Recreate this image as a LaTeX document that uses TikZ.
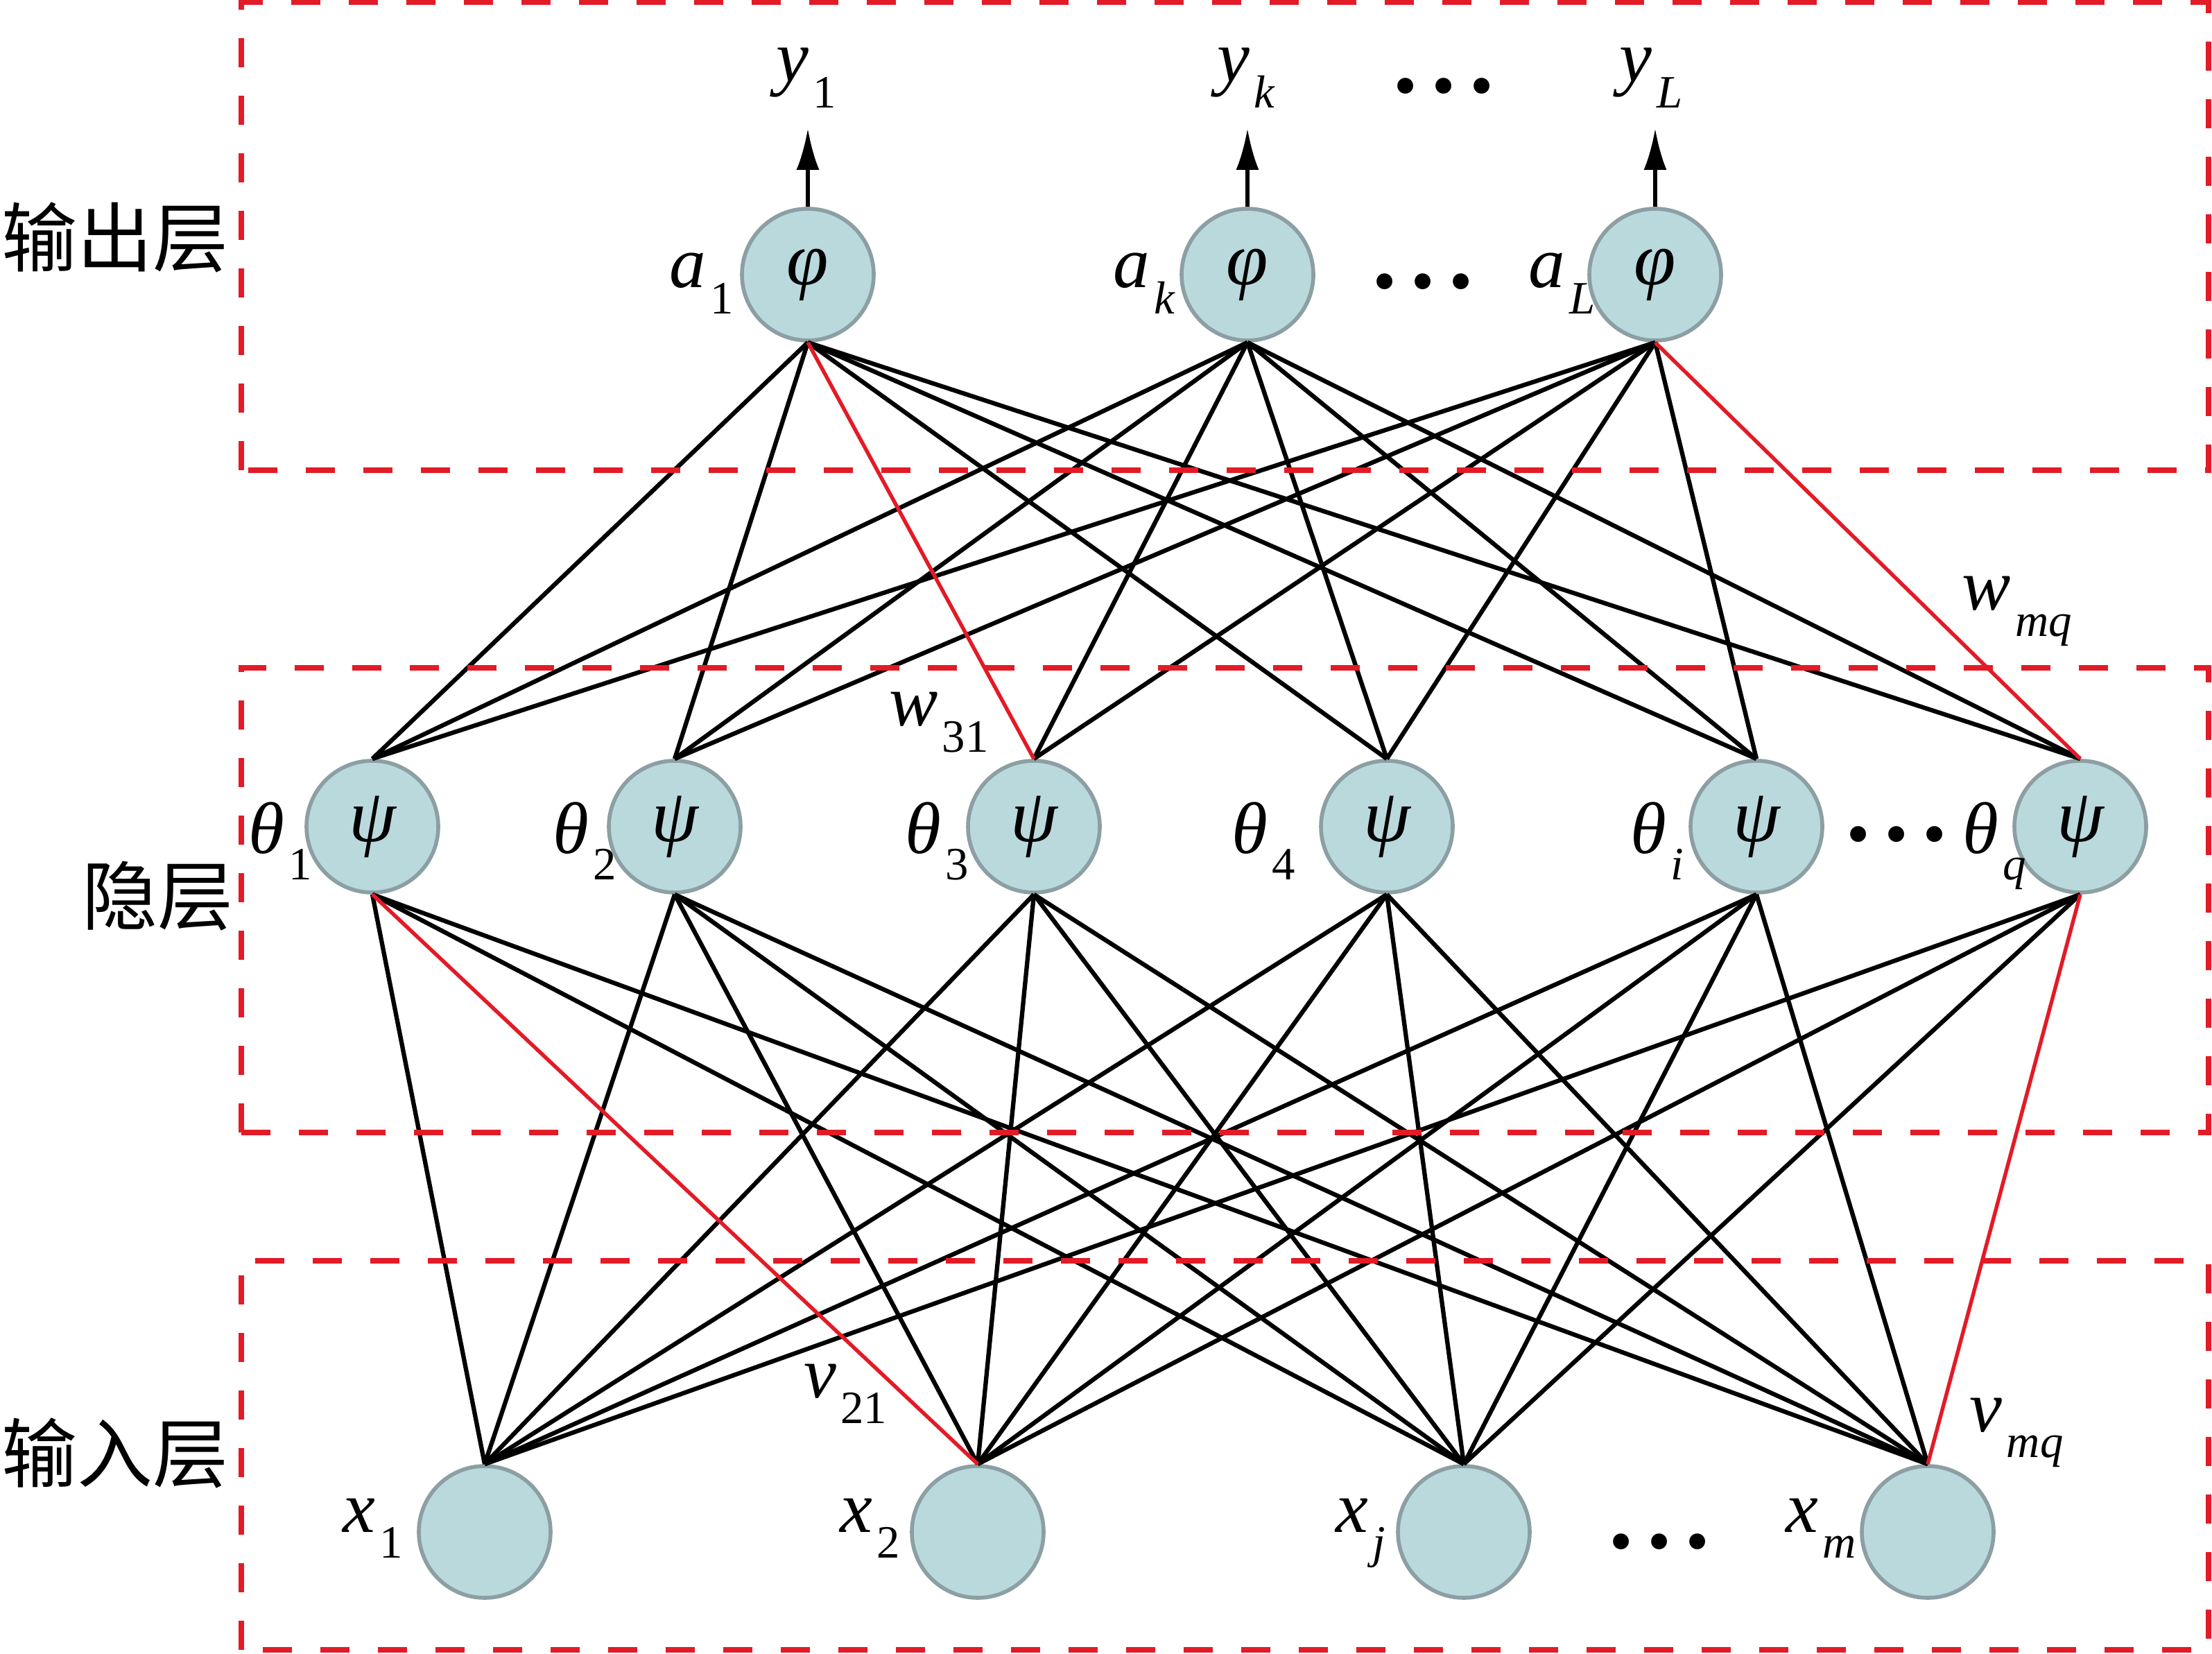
\documentclass[tikz,border=0pt]{standalone}
\usepackage{fontspec}
\setmainfont{Liberation Serif}
\newfontfamily\cjk{Noto Sans CJK SC}
\usetikzlibrary{arrows.meta}
\definecolor{nodefill}{RGB}{186,217,221}
\definecolor{nodeedge}{RGB}{140,159,163}
\definecolor{boxred}{RGB}{226,27,38}
\newcommand{\sublab}[2]{\textit{#1}\kern0.06em\raisebox{-0.36em}{\fontsize{19}{19}\selectfont #2}}
\newcommand{\threedots}{\textbf{.\kern0.14em.\kern0.14em.}}

\begin{document}
\begin{tikzpicture}[
    neuron/.style={circle,draw=nodeedge,fill=nodefill,line width=1.6pt,minimum size=1.9cm,inner sep=0pt,font=\fontsize{31}{33}\selectfont\itshape},
    lbl/.style={anchor=base,inner sep=0pt,font=\fontsize{30}{32}\selectfont},
    dotsl/.style={anchor=base,inner sep=0pt,font=\fontsize{40}{42}\selectfont},
    layername/.style={inner sep=0pt,font=\fontsize{31}{33}\selectfont\cjk},
    wire/.style={line width=1.8pt},
    redwire/.style={line width=1.55pt,draw=boxred},
    outarrow/.style={line width=1.6pt,-{Latex[length=6mm,width=3.3mm]}},
    layerbox/.style={draw=boxred,line width=2.3pt,dash pattern=on 4.2mm off 4.1mm}
]
            \useasboundingbox (0,0) rectangle (31.9,23.84);
            % output layer
            \node[neuron] (o1) at (11.65,19.88) {φ};
            \node[neuron] (o2) at (17.99,19.88) {φ};
            \node[neuron] (o3) at (23.87,19.88) {φ};
            % hidden layer
            \node[neuron] (h1) at (5.37,11.92) {ψ};
            \node[neuron] (h2) at (9.73,11.92) {ψ};
            \node[neuron] (h3) at (14.91,11.92) {ψ};
            \node[neuron] (h4) at (20.00,11.92) {ψ};
            \node[neuron] (h5) at (25.33,11.92) {ψ};
            \node[neuron] (h6) at (30.00,11.92) {ψ};
            % input layer
            \node[neuron] (i1) at (6.99,1.75) {};
            \node[neuron] (i2) at (14.10,1.75) {};
            \node[neuron] (i3) at (21.11,1.75) {};
            \node[neuron] (i4) at (27.80,1.75) {};
            % outputs
            \coordinate (t1) at (11.65,21.99);
            \coordinate (t2) at (17.99,21.99);
            \coordinate (t3) at (23.87,21.99);
            \draw[outarrow] (o1.north) -- (t1);
            \draw[outarrow] (o2.north) -- (t2);
            \draw[outarrow] (o3.north) -- (t3);
            % hidden -> output weights
            \foreach \n in {1,2,4,5,6} \draw[wire] (o1.south) -- (h\n.north);
            \foreach \n in {1,...,6} \draw[wire] (o2.south) -- (h\n.north);
            \foreach \n in {1,...,5} \draw[wire] (o3.south) -- (h\n.north);
            \draw[redwire] (o1.south) -- (h3.north);
            \draw[redwire] (o3.south) -- (h6.north);
            % input -> hidden weights
            \foreach \n in {1,...,4} \draw[wire] (h\n.south) -- (i1.north);
            \foreach \n in {2,...,6} \draw[wire] (h\n.south) -- (i2.north);
            \foreach \n in {1,...,6} \draw[wire] (h\n.south) -- (i3.north);
            \foreach \n in {1,...,5} \draw[wire] (h\n.south) -- (i4.north);
            \draw[wire] (h5.south) -- (i1.north);
            \draw[wire] (h6.south) -- (i1.north);
            \draw[redwire] (h1.south) -- (i2.north);
            \draw[redwire] (h6.south) -- (i4.north);
            % labels
            \node[lbl] (y1) at (11.63,22.66) {\sublab{y}{1}};
            \node[lbl] (yk) at (17.97,22.66) {\sublab{y}{\textit{k}}};
            \node[lbl] (yL) at (23.81,22.66) {\sublab{y}{\textit{L}}};
            \node[dotsl] (ydots) at (20.82,22.50) {\threedots};
            \node[lbl] (a1) at (10.12,19.69) {\sublab{a}{1}};
            \node[lbl] (ak) at (16.50,19.69) {\sublab{a}{\textit{k}}};
            \node[lbl] (aL) at (22.53,19.69) {\sublab{a}{\textit{L}}};
            \node[dotsl] (adots) at (20.52,19.68) {\threedots};
            \node[lbl] (th1) at (4.04,11.53) {\sublab{θ}{1}};
            \node[lbl] (th2) at (8.43,11.53) {\sublab{θ}{2}};
            \node[lbl] (th3) at (13.51,11.53) {\sublab{θ}{3}};
            \node[lbl] (th4) at (18.22,11.53) {\sublab{θ}{4}};
            \node[lbl] (thi) at (23.90,11.53) {\sublab{θ}{\textit{i}}};
            \node[lbl] (thq) at (28.76,11.53) {\sublab{θ}{\textit{q}}};
            \node[dotsl] (thdots) at (27.35,11.71) {\threedots};
            \node[lbl] (x1) at (5.38,1.75) {\sublab{x}{1}};
            \node[lbl] (x2) at (12.55,1.75) {\sublab{x}{2}};
            \node[lbl] (xj) at (19.62,1.75) {\sublab{x}{\textit{j}}};
            \node[lbl] (xm) at (26.26,1.75) {\sublab{x}{\textit{m}}};
            \node[dotsl] (xdots) at (23.93,1.52) {\threedots};
            \node[lbl] (w31) at (13.54,13.37) {\sublab{w}{31}};
            \node[lbl] (wmq) at (29.09,15.04) {\sublab{w}{\textit{mq}}};
            \node[lbl] (v21) at (12.19,3.69) {\sublab{v}{21}};
            \node[lbl] (vmq) at (29.08,3.20) {\sublab{v}{\textit{mq}}};
            % layer boxes
            \draw[layerbox] (3.48,17.06) rectangle (31.85,23.81);
            \draw[layerbox] (3.48,7.51) rectangle (31.85,14.21);
            \draw[layerbox] (3.48,0.05) rectangle (31.85,5.66);
            \node[layername] (outname) at (1.66,20.42) {输出层};
            \node[layername] (hidname) at (2.27,10.92) {隐层};
            \node[layername] (inname) at (1.66,2.89) {输入层};
        \end{tikzpicture}
\end{document}
